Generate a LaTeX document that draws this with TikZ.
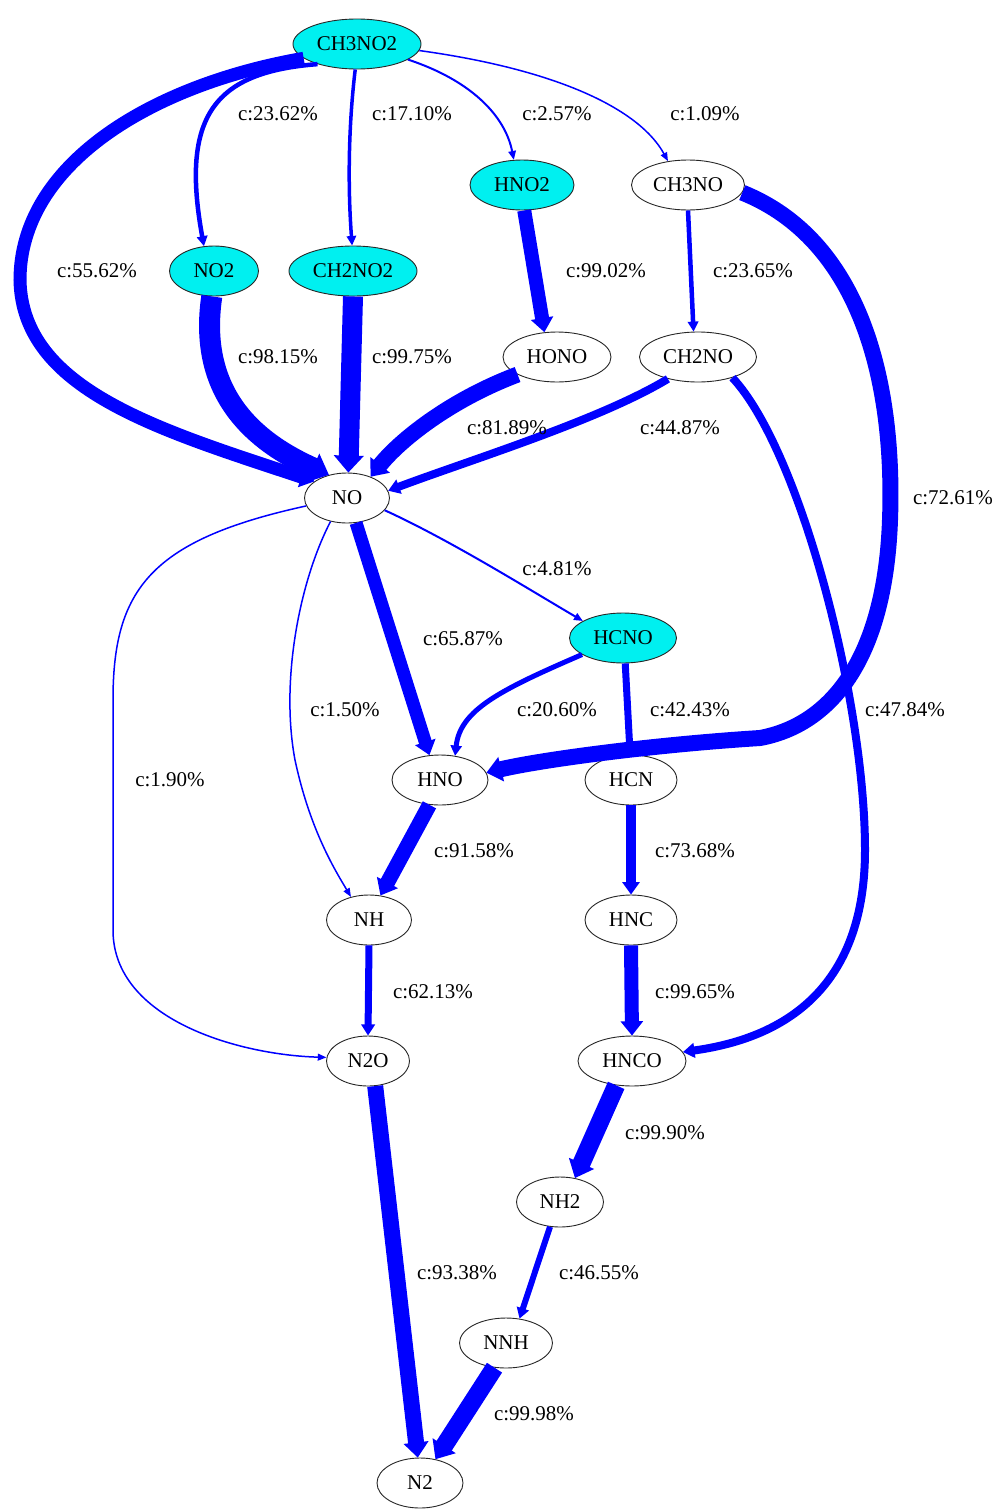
\documentclass[tikz,border=0pt]{standalone}
\usepackage{fontspec}
\setmainfont{Liberation Serif}
\usetikzlibrary{shapes.geometric,arrows.meta}
\definecolor{flowblue}{RGB}{0,0,255}
\definecolor{spcyan}{RGB}{0,240,240}
\begin{document}
\begin{tikzpicture}[x=1pt,y=-1pt,
  sp/.style={ellipse, draw=black!85, line width=0.9pt, inner sep=0pt, minimum height=50pt, font=\fontsize{21}{24}\selectfont},
  cy/.style={sp, fill=spcyan},
  wh/.style={sp, fill=white},
  lbl/.style={font=\fontsize{21}{24}\selectfont, inner sep=0pt},
  flow/.style={draw=flowblue, line width=#1, -{Triangle[length=8pt 0.45, width=5pt 1.2]}}
]
\useasboundingbox (0,0) rectangle (999,1510);
% nodes
\node[cy, minimum width=128pt] (CH3NO2) at (357,44) {CH3NO2};
\node[cy, minimum width=89pt] (NO2) at (214,271) {NO2};
\node[cy, minimum width=128pt] (CH2NO2) at (353,271) {CH2NO2};
\node[cy, minimum width=104pt] (HNO2) at (522,185) {HNO2};
\node[wh, minimum width=113pt] (CH3NO) at (688,185) {CH3NO};
\node[wh, minimum width=108pt] (HONO) at (557,357) {HONO};
\node[wh, minimum width=117pt] (CH2NO) at (698,357) {CH2NO};
\node[wh, minimum width=85pt] (NO) at (347,498) {NO};
\node[cy, minimum width=107pt] (HCNO) at (623,638) {HCNO};
\node[wh, minimum width=96pt] (HNO) at (440,780) {HNO};
\node[wh, minimum width=92pt] (HCN) at (631,780) {HCN};
\node[wh, minimum width=85pt] (NH) at (369,920) {NH};
\node[wh, minimum width=92pt] (HNC) at (631,920) {HNC};
\node[wh, minimum width=83pt] (N2O) at (368,1061) {N2O};
\node[wh, minimum width=108pt] (HNCO) at (632,1061) {HNCO};
\node[wh, minimum width=87pt] (NH2) at (560,1202) {NH2};
\node[wh, minimum width=93pt] (NNH) at (506,1343) {NNH};
\node[wh, minimum width=86pt] (N2) at (420,1483) {N2};
% edges
\draw[flow=13pt] (CH3NO2.195) .. controls (150,85) and (20,165) .. (20,280) .. controls (22,390) and (160,430) .. (NO.153);
\draw[flow=4.5pt] (CH3NO2.207) .. controls (215,72) and (180,115) .. (NO2.112);
\draw[flow=3.5pt] (CH3NO2.266) .. controls (348,130) and (348,190) .. (CH2NO2.92);
\draw[flow=2pt] (CH3NO2.343) .. controls (470,80) and (505,115) .. (HNO2.108);
\draw[flow=1.5pt] (CH3NO2.354) .. controls (560,70) and (640,110) .. (CH3NO.130);
\draw[flow=21pt] (NO2.265) .. controls (198,390) and (250,440) .. (NO.128);
\draw[flow=20pt] (CH2NO2.270) -- (NO.87);
\draw[flow=14pt] (HNO2.275) -- (HONO.117);
\draw[flow=16pt] (HONO.204) .. controls (450,400) and (400,440) .. (NO.42);
\draw[flow=8pt] (CH2NO.216) .. controls (600,420) and (470,460) .. (NO.10);
\draw[flow=4.5pt] (CH3NO.270) -- (CH2NO.100);
\draw[flow=16pt] (CH3NO.352) .. controls (860,240) and (895,380) .. (890,520) .. controls (885,660) and (830,725) .. (760,738) .. controls (650,745) and (540,760) .. (HNO.9);
\draw[flow=8pt] (CH2NO.329) .. controls (800,450) and (865,700) .. (865,850) .. controls (865,1000) and (770,1040) .. (HNCO.10);
\draw[flow=2pt] (NO.-18) .. controls (450,540) and (530,590) .. (HCNO.157);
\draw[flow=13pt] (NO.-70) -- (HNO.113);
\draw[flow=1.5pt] (NO.235) .. controls (300,580) and (280,680) .. (295,760) .. controls (310,830) and (335,870) .. (NH.128);
\draw[flow=1.5pt] (NO.191) .. controls (150,540) and (113,590) .. (113,700) -- (113,930) .. controls (113,1020) and (240,1055) .. (N2O.175);
\draw[flow=5pt] (HCNO.202) .. controls (500,690) and (460,710) .. (HNO.58);
\draw[flow=7pt] (HCNO.275) -- (HCN.92);
\draw[flow=15pt] (HNO.247) -- (NH.65);
\draw[flow=10pt] (HCN.270) -- (HNC.90);
\draw[flow=7pt] (NH.270) -- (N2O.90);
\draw[flow=14pt] (HNC.270) -- (HNCO.90);
\draw[flow=18pt] (HNCO.237) -- (NH2.58);
\draw[flow=6pt] (NH2.248) -- (NNH.61);
\draw[flow=16pt] (N2O.286) -- (N2.95);
\draw[flow=18pt] (NNH.245) -- (N2.57);
% labels
\node[lbl] (l1) at (97,271) {c:55.62\%};
\node[lbl] (l2) at (278,114) {c:23.62\%};
\node[lbl] (l3) at (412,114) {c:17.10\%};
\node[lbl] (l4) at (557,114) {c:2.57\%};
\node[lbl] (l5) at (705,114) {c:1.09\%};
\node[lbl] (l6) at (278,357) {c:98.15\%};
\node[lbl] (l7) at (412,357) {c:99.75\%};
\node[lbl] (l8) at (606,271) {c:99.02\%};
\node[lbl] (l9) at (753,271) {c:23.65\%};
\node[lbl] (l10) at (953,498) {c:72.61\%};
\node[lbl] (l11) at (507,428) {c:81.89\%};
\node[lbl] (l12) at (680,428) {c:44.87\%};
\node[lbl] (l13) at (905,710) {c:47.84\%};
\node[lbl] (l14) at (557,569) {c:4.81\%};
\node[lbl] (l15) at (463,639) {c:65.87\%};
\node[lbl] (l16) at (345,710) {c:1.50\%};
\node[lbl] (l17) at (170,780) {c:1.90\%};
\node[lbl] (l18) at (557,710) {c:20.60\%};
\node[lbl] (l19) at (690,710) {c:42.43\%};
\node[lbl] (l20) at (474,851) {c:91.58\%};
\node[lbl] (l21) at (695,851) {c:73.68\%};
\node[lbl] (l22) at (433,992) {c:62.13\%};
\node[lbl] (l23) at (695,992) {c:99.65\%};
\node[lbl] (l24) at (665,1133) {c:99.90\%};
\node[lbl] (l25) at (599,1273) {c:46.55\%};
\node[lbl] (l26) at (457,1273) {c:93.38\%};
\node[lbl] (l27) at (534,1414) {c:99.98\%};
\end{tikzpicture}
\end{document}
